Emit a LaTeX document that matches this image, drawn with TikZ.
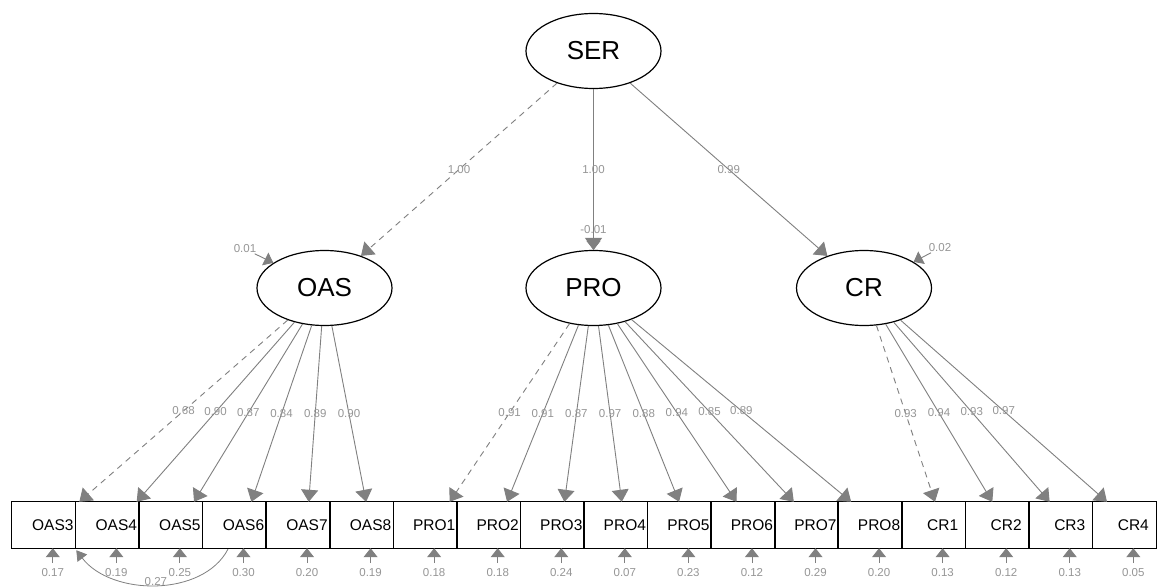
\documentclass[tikz,border=0pt]{standalone}
\usepackage{fontspec}
\setmainfont{Liberation Sans}
\usetikzlibrary{shapes.geometric,arrows.meta,calc}
\definecolor{edgegray}{RGB}{128,128,128}
\definecolor{lblgray}{RGB}{150,150,150}
\begin{document}
\begin{tikzpicture}[x=1pt,y=-1pt,
  lat/.style={ellipse,draw=black,line width=1.2pt,minimum width=135pt,minimum height=75pt,inner sep=0pt,font=\fontsize{26}{28}\selectfont},
  obs/.style={rectangle,minimum width=63.56pt,minimum height=46pt,inner sep=0pt,font=\fontsize{15.5}{17}\selectfont},
  boxline/.style={draw=black,line width=1.2pt},
  load/.style={draw=edgegray,line width=0.9pt,-{Triangle[width=17pt,length=12pt]}},
  fixedload/.style={load,dash pattern=on 6pt off 5pt},
  res/.style={draw=edgegray,line width=0.9pt,-{Triangle[width=14pt,length=9pt]}},
  cov/.style={draw=edgegray,line width=0.8pt,-{Triangle[width=12pt,length=10pt]}},
  elabel/.style={font=\fontsize{11.5}{12}\selectfont,text=lblgray,inner sep=0.5pt}
]
\fill[white] (0,0) rectangle (1161,588);
\useasboundingbox (0,0) rectangle (1161,588);

% latent variables
\node[lat] (SER) at (593.5,51) {SER};
\node[lat] (OAS) at (324.5,288) {OAS};
\node[lat] (PRO) at (593.5,288) {PRO};
\node[lat] (CR) at (864,288) {CR};

% observed variables
\foreach \n [count=\i from 0] in {OAS3,OAS4,OAS5,OAS6,OAS7,OAS8,PRO1,PRO2,PRO3,PRO4,PRO5,PRO6,PRO7,PRO8,CR1,CR2,CR3,CR4} {
  \node[obs] (\n) at ({12+63.56*(\i+0.5)+9},525) {\n};
  \draw[boxline] ($(\n.south west)+(-9,0)$) rectangle ($(\n.north east)+(-9,0)$);
}

% second-order loadings
\draw[fixedload] (SER) -- node[elabel]{1.00} (OAS);
\draw[load] (SER) -- node[elabel]{1.00} (PRO);
\draw[load] (SER) -- node[elabel]{0.99} (CR);

% first-order loadings
\draw[fixedload] (OAS) -- node[elabel]{0.68} (OAS3);
\foreach \n/\v in {OAS4/0.90,OAS5/0.87,OAS6/0.84,OAS7/0.89,OAS8/0.90}
  \draw[load] (OAS) -- node[elabel]{\v} (\n);
\draw[fixedload] (PRO) -- node[elabel]{0.91} (PRO1);
\foreach \n/\v in {PRO2/0.91,PRO3/0.87,PRO4/0.97,PRO5/0.88,PRO6/0.94,PRO7/0.85,PRO8/0.89}
  \draw[load] (PRO) -- node[elabel]{\v} (\n);
\draw[fixedload] (CR) -- node[elabel]{0.93} (CR1);
\foreach \n/\v in {CR2/0.94,CR3/0.93,CR4/0.97}
  \draw[load] (CR) -- node[elabel]{\v} (\n);

% latent residuals
\node[elabel] (rOAS) at (245,249) {0.01};
\draw[res] (rOAS) -- (OAS);
\node[elabel] (rPRO) at (593.5,230) {-0.01};
\draw[res] (rPRO) -- (PRO);
\node[elabel] (rCR) at (940,248) {0.02};
\draw[res] (rCR) -- (CR);

% observed residuals
\foreach \n/\v in {OAS3/0.17,OAS4/0.19,OAS5/0.25,OAS6/0.30,OAS7/0.20,OAS8/0.19,PRO1/0.18,PRO2/0.18,PRO3/0.24,PRO4/0.07,PRO5/0.23,PRO6/0.12,PRO7/0.29,PRO8/0.20,CR1/0.13,CR2/0.12,CR3/0.13,CR4/0.05} {
  \node[elabel] (r\n) at ($(\n)+(0,48)$) {\v};
  \draw[res,shorten <=5pt] (r\n) -- (\n);
}

% residual covariance
\draw[cov] ($(OAS6.south)+(-15.5,1)$) .. controls +(-25,48) and +(35,46) .. node[elabel,pos=0.5,yshift=3.5pt]{0.27} ($(OAS3.south)+(23.5,2)$);
\end{tikzpicture}
\end{document}
